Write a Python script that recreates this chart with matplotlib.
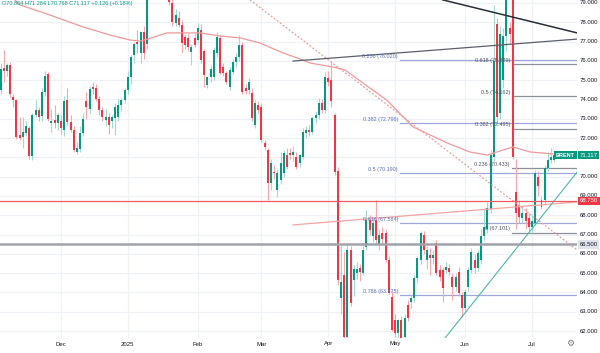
import matplotlib
matplotlib.use('Agg')
import matplotlib.pyplot as plt
import matplotlib.transforms as mtransforms

plt.rcParams['font.family'] = ['Liberation Sans', 'DejaVu Sans']

# ---------------- data ----------------
opens = [74.5, 75.65, 75.45, 75.8, 74.15, 73.95, 72.15, 72.05, 72.25, 72.5,
         71.05, 73.2, 73.45, 73.15, 74.4, 75.3, 72.8, 72.95, 72.8, 72.9,
         72.4, 73.95, 72.85, 72.4, 71.3, 71.45, 72.25, 73.9, 73.5, 74.65,
         74.6, 74.05, 73.45, 72.95, 73.1, 72.9, 73.02, 73.11, 73.71, 73.97,
         74.49, 75.18, 76.3, 77.0, 76.4, 77.5, 76.9, 79.9, 81.0, 80.2,
         82.2, 81.5, 81.4, 80.3, 79.0, 77.95, 78.2, 77.86, 77.26, 77.2,
         76.48, 77.17, 77.1, 77.6, 76.5, 74.75, 75.18, 75.18, 76.39, 77.17,
         75.7, 75.36, 74.66, 75.44, 75.96, 76.22, 76.82, 74.6, 74.49, 74.32,
         72.68, 73.71, 73.63, 71.73, 71.38, 69.66, 70.26, 69.31, 69.83, 70.17,
         71.12, 71.21, 71.12, 71.04, 70.69, 71.04, 72.25, 72.42, 72.33, 73.02,
         73.2, 73.8, 73.46, 75.1, 75.0, 73.2, 70.3, 63.7, 64.9, 61.7,
         66.2, 64.65, 65.0, 65.25, 65.0, 66.37, 67.76, 66.9, 67.76, 66.5,
         67.07, 67.07, 65.68, 63.78, 62.57, 61.88, 62.57, 61.71, 63.35, 63.53,
         63.7, 64.73, 65.68, 67.0, 65.68, 65.94, 65.77, 66.55, 65.17, 65.17,
         65.17, 65.25, 64.82, 64.3, 65.08, 63.87, 63.2, 64.3, 65.17, 65.68,
         65.25, 65.68, 66.9, 67.3, 68.3, 71.0, 77.9, 73.3, 75.0, 77.3,
         77.7, 79.6, 69.2, 68.45, 67.85, 68.1, 67.85, 67.41, 67.6, 70.0,
         68.45, 68.8, 70.44, 70.87, 70.864]
highs = [75.9, 76.55, 75.9, 75.95, 74.3, 74.0, 73.1, 73.1, 72.9, 72.6,
         73.3, 73.97, 73.6, 74.6, 75.45, 75.4, 73.5, 73.7, 73.3, 73.2,
         74.2, 74.6, 73.2, 72.6, 71.8, 72.6, 73.3, 74.4, 74.7, 74.9,
         74.8, 74.2, 73.6, 73.5, 73.3, 73.2, 73.8, 74.0, 74.1, 74.6,
         75.5, 76.3, 77.0, 77.6, 77.5, 77.8, 80.3, 81.3, 81.4, 82.4,
         82.6, 82.0, 81.6, 80.6, 79.3, 78.7, 78.6, 78.1, 77.4, 77.4,
         76.9, 77.5, 77.95, 77.9, 76.6, 75.2, 75.8, 76.7, 77.5, 77.35,
         75.9, 75.5, 75.7, 76.1, 76.4, 77.35, 77.0, 74.8, 75.1, 74.6,
         73.95, 73.9, 73.8, 71.9, 71.5, 70.9, 70.6, 70.4, 71.3, 71.4,
         71.5, 71.5, 71.6, 71.3, 71.2, 72.5, 72.6, 72.7, 73.1, 73.4,
         74.1, 74.0, 75.4, 75.5, 76.0, 73.3, 70.5, 66.4, 66.1, 66.5,
         66.4, 65.4, 65.6, 65.5, 66.4, 68.27, 68.0, 67.9, 68.79, 67.3,
         67.4, 67.3, 65.9, 64.1, 62.9, 62.6, 62.8, 62.9, 63.6, 63.9,
         64.9, 65.9, 67.2, 67.2, 66.4, 66.3, 66.2, 66.7, 65.4, 65.3,
         65.6, 65.5, 65.0, 65.0, 65.3, 64.0, 64.2, 65.3, 66.3, 66.0,
         66.2, 67.3, 68.36, 68.7, 71.4, 78.9, 78.2, 77.8, 77.7, 80.5,
         78.0, 81.2, 70.9, 68.8, 68.5, 68.4, 68.1, 68.0, 70.35, 70.3,
         69.0, 70.6, 71.3, 71.5, 71.284]
lows = [74.3, 74.9, 75.2, 74.15, 73.6, 71.95, 71.9, 71.5, 72.1, 70.9,
        70.85, 73.1, 72.9, 72.9, 74.2, 72.9, 72.3, 72.5, 72.4, 72.2,
        72.1, 72.7, 72.3, 71.3, 71.15, 71.3, 72.1, 73.0, 73.3, 74.3,
        73.9, 73.2, 72.9, 72.6, 72.2, 72.5, 72.15, 72.9, 73.4, 73.8,
        74.3, 74.8, 75.9, 76.4, 75.9, 76.1, 76.6, 79.5, 79.8, 80.0,
        81.0, 80.9, 79.9, 78.9, 77.8, 77.8, 77.75, 76.4, 76.6, 76.5,
        75.79, 76.7, 76.9, 75.9, 74.66, 74.6, 74.9, 75.0, 76.2, 75.3,
        75.2, 74.8, 74.5, 75.3, 75.7, 76.0, 74.3, 74.3, 74.3, 72.9,
        72.5, 73.3, 71.8, 71.4, 68.79, 69.3, 69.9, 68.97, 69.6, 70.0,
        70.4, 70.9, 70.8, 70.4, 70.5, 70.9, 72.0, 72.1, 72.2, 72.8,
        73.0, 73.3, 73.3, 74.7, 73.6, 70.1, 64.4, 62.9, 61.4, 61.0,
        63.3, 63.8, 64.7, 64.6, 64.9, 66.2, 67.0, 66.6, 66.5, 66.2,
        66.5, 65.6, 63.9, 62.0, 61.7, 61.6, 60.9, 61.3, 62.5, 63.2,
        63.5, 64.5, 65.5, 66.0, 65.2, 64.9, 65.5, 64.9, 64.6, 63.53,
        65.0, 64.9, 63.6, 64.1, 63.8, 62.75, 63.0, 64.1, 65.0, 65.0,
        65.1, 65.5, 66.7, 67.1, 68.1, 70.8, 72.8, 73.0, 74.6, 76.5,
        76.9, 70.9, 67.3, 67.6, 67.6, 67.3, 67.2, 67.1, 67.5, 69.0,
        68.3, 68.6, 70.3, 70.7, 70.768]
closes = [75.6, 75.5, 75.8, 74.3, 73.95, 72.05, 72.0, 72.3, 72.6, 71.05,
          73.2, 73.45, 73.1, 74.4, 75.2, 73.0, 72.9, 72.8, 73.2, 72.5,
          73.9, 72.85, 72.4, 71.4, 71.5, 72.25, 73.0, 73.6, 74.55, 74.55,
          74.05, 73.45, 73.1, 73.1, 72.7, 73.1, 73.63, 73.71, 73.97, 74.49,
          75.18, 76.22, 76.9, 76.85, 77.5, 76.4, 79.9, 81.0, 80.2, 82.2,
          81.5, 81.4, 80.3, 79.05, 78.0, 78.38, 77.86, 76.91, 76.82, 76.74,
          76.74, 76.82, 77.69, 76.05, 75.27, 75.18, 75.6, 76.56, 77.26, 75.36,
          75.36, 74.92, 75.53, 75.96, 76.22, 76.82, 74.4, 74.45, 74.92, 73.02,
          73.8, 73.46, 71.9, 71.56, 69.66, 70.69, 70.17, 70.17, 70.69, 71.21,
          70.52, 71.12, 71.3, 70.52, 71.12, 72.33, 72.42, 72.33, 73.02, 73.2,
          73.8, 73.46, 75.18, 74.92, 73.9, 70.26, 64.65, 64.56, 61.7, 66.2,
          63.45, 65.2, 65.2, 65.05, 66.2, 67.76, 67.24, 67.6, 66.7, 67.0,
          66.75, 65.7, 63.96, 62.06, 61.88, 62.57, 61.3, 62.66, 62.66, 63.7,
          64.73, 65.77, 67.07, 66.2, 66.2, 65.77, 65.94, 64.99, 64.82, 64.22,
          65.34, 65.08, 64.3, 64.82, 63.96, 63.18, 64.0, 65.17, 66.12, 65.25,
          66.03, 66.9, 67.41, 68.4, 71.1, 76.0, 73.1, 77.4, 77.3, 79.5,
          77.4, 71.0, 68.1, 67.93, 68.1, 67.7, 67.41, 67.7, 70.2, 69.5,
          68.8, 70.44, 70.87, 71.0, 71.117]

month_idx = [19, 40, 62, 82, 103, 124, 146, 167]
month_labels = ['Dec', '2025', 'Feb', 'Mar', 'Apr', 'May', 'Jun', 'Jul']
price_ticks = list(range(62, 80))

# 200-day moving average, sampled along the drawn curve (bar index, price)
ma_idx = [4.5, 6.1, 15.5, 25.9, 34.4, 40.7, 43.8, 46.3, 49.2, 52.3, 56.4, 62.7,
          69.0, 75.3, 81.5, 88.8, 94.1, 97.3, 104.5, 108.3, 113.9, 121.4, 129.6,
          140.3, 147.5, 152.9, 156.0, 161.0, 166.4, 173.6]
ma_val = [79.16, 78.90, 78.38, 77.76, 77.34, 77.08, 77.03, 77.13, 77.29, 77.45,
          77.45, 77.45, 77.29, 77.19, 76.93, 76.41, 76.10, 75.89, 75.68, 75.53,
          74.85, 73.97, 72.58, 71.75, 71.28, 71.12, 71.28, 71.54, 71.28, 71.18]

# Fibonacci retracement sets
fib1_levels = [76.020, 72.796, 70.190, 67.584, 63.875]
fib1_labels = ['0.236 (76.020)', '0.382 (72.796)', '0.5 (70.190)',
               '0.618 (67.584)', '0.786 (63.875)']
fib1_start = 125.5
fib2_levels = [75.829, 74.162, 72.495, 70.433, 67.101]
fib2_labels = ['0.618 (75.829)', '0.5 (74.162)', '0.382 (72.495)',
               '0.236 (70.433)', '0 (67.101)']
fib2_start = 160.7

# horizontal levels
level_red = 68.750
level_gray = 66.500

# trend lines: (bar index, price) end points
tl_black_x, tl_black_y = [139.0, 181.2], [79.16, 77.45]
tl_gray_x, tl_gray_y = [91.9, 181.2], [75.99, 77.13]
tl_salmon_x, tl_salmon_y = [91.9, 181.2], [67.50, 68.69]
tl_teal_x, tl_teal_y = [139.7, 181.2], [61.64, 70.24]
tl_dot_x, tl_dot_y = [78.4, 181.2], [79.16, 66.20]

header = 'O70.864 H71.284 L70.768 C71.117 +0.126 (+0.18%)'
symbol = 'BRENT'
last_price = 71.117

# ---------------- drawing ----------------
UP, DN = '#089981', '#f23645'
UPW, DNW = '#a3d9cf', '#f7a7ae'
AXFS = 4.3

fig = plt.figure(figsize=(6.0, 3.53), dpi=100)
fig.patch.set_facecolor('white')
ax = fig.add_axes([0, 15 / 353, 577 / 600, 338 / 353])
ax.set_xlim(-0.17, 181.16)
ax.set_ylim(61.64, 79.155)
for s in ax.spines.values():
    s.set_visible(False)
ax.set_xticks([])
ax.set_yticks([])

for m in month_idx:
    ax.axvline(m, color='#eff1f6', lw=0.9, zorder=0)
for p in price_ticks:
    ax.axhline(p, color='#eff1f6', lw=0.9, zorder=0)

# candles
for i, (o, h, l, c) in enumerate(zip(opens, highs, lows, closes)):
    up = c >= o
    ax.vlines(i, l, h, color=UPW if up else DNW, lw=0.8, zorder=2)
    bot = min(o, c)
    hgt = max(abs(c - o), 0.06)
    ax.bar(i, hgt, bottom=bot, width=0.62, color=UP if up else DN,
           lw=0, zorder=3)

# moving average
ax.plot(ma_idx, ma_val, color='#ef9a9a', lw=0.9, zorder=4)

# trend lines
ax.plot(tl_dot_x, tl_dot_y, color='#ef9a9a', lw=0.9, ls=(0, (1.5, 1.5)), zorder=4)
ax.plot(tl_black_x, tl_black_y, color='#2a2e39', lw=1.1, zorder=4)
ax.plot(tl_gray_x, tl_gray_y, color='#5d606b', lw=0.9, zorder=4)
ax.plot(tl_salmon_x, tl_salmon_y, color='#f5a3a3', lw=0.9, zorder=4)
ax.plot(tl_teal_x, tl_teal_y, color='#4db6ac', lw=0.8, zorder=4)

# horizontal levels
ax.axhline(level_red, color='#f05a63', lw=0.9, zorder=4)
ax.axhline(level_gray, color='#a0a3ab', lw=1.8, zorder=4)

# fib set 1
for lv, lb in zip(fib1_levels, fib1_labels):
    ax.plot([fib1_start, 181.2], [lv, lv], color='#9fa8da', lw=0.9, zorder=1)
    ax.text(fib1_start - 0.6, lv + 0.06, lb, fontsize=3.9, color='#5c6bc0',
            ha='right', va='bottom', zorder=5)
# fib set 2
for lv, lb in zip(fib2_levels, fib2_labels):
    ax.plot([fib2_start, 181.2], [lv, lv], color='#8d9099', lw=0.9, zorder=1)
    ax.text(fib2_start - 0.6, lv + 0.06, lb, fontsize=3.9, color='#50535e',
            ha='right', va='bottom', zorder=5)

# right price axis
tr = mtransforms.blended_transform_factory(ax.transAxes, ax.transData)
for p in price_ticks:
    if p == 71:
        continue
    ax.text(1 + 2.5 / 577, p, f'{p:.3f}', transform=tr, fontsize=AXFS,
            color='#131722', ha='left', va='center', clip_on=False)

def price_box(y, txt, fc, tc):
    ax.text(1 + 2.5 / 577, y, txt, transform=tr, fontsize=AXFS, color=tc,
            ha='left', va='center', clip_on=False, zorder=10,
            bbox=dict(boxstyle='square,pad=0.3', fc=fc, ec='none'))

price_box(last_price, f'{last_price:.3f}', UP, 'white')
price_box(level_red, f'{level_red:.3f}', DN, 'white')
price_box(level_gray, f'{level_gray:.3f}', '#e0e3eb', '#131722')
ax.text(1 - 2 / 577, last_price, symbol, transform=tr, fontsize=4.0,
        color='white', ha='right', va='center', zorder=10, fontweight='bold',
        bbox=dict(boxstyle='square,pad=0.3', fc=UP, ec='none'))

# month labels
trx = mtransforms.blended_transform_factory(ax.transData, ax.transAxes)
for m, lb in zip(month_idx, month_labels):
    ax.text(m, -6 / 338, lb, transform=trx, fontsize=AXFS, color='#131722',
            ha='center', va='center', clip_on=False)

fig.text(570 / 600, 1 - 343 / 353, '\u2699', fontsize=6.5, color='#787b86',
         ha='center', va='center', family='DejaVu Sans')
fig.text(2 / 600, 1 - 4 / 353, header, fontsize=4.0, color='#089981',
         ha='left', va='center')

fig.savefig('out.png', dpi=100)
